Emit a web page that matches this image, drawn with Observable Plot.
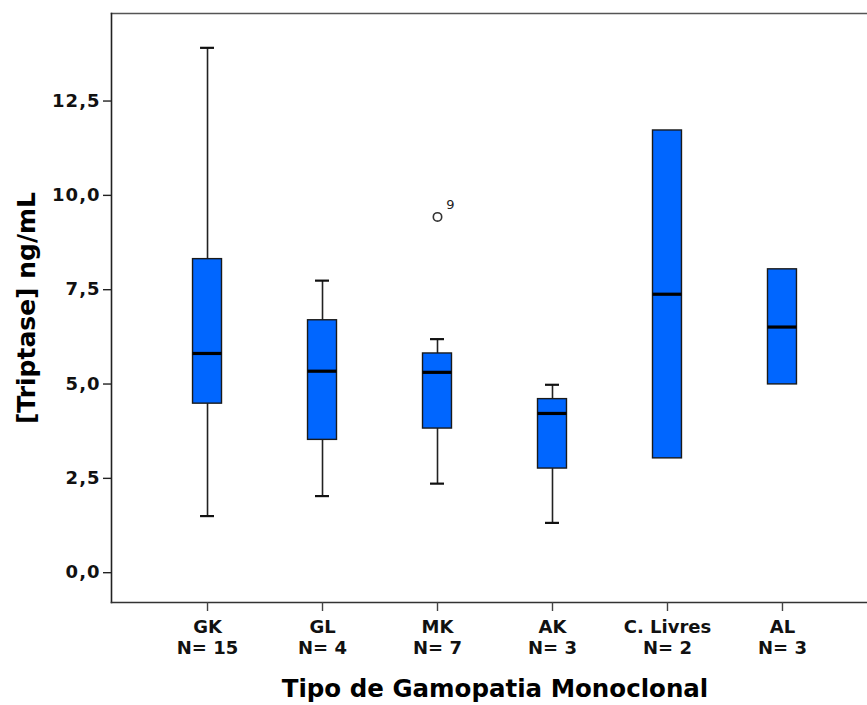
<!DOCTYPE html>
<html>
<head>
<meta charset="utf-8">
<script src="https://cdn.jsdelivr.net/npm/d3@7"></script>
<script src="https://cdn.jsdelivr.net/npm/@observablehq/plot@0.6"></script>
<style>
  html, body { margin: 0; padding: 0; background: #fff; overflow: hidden; }
  #chart { width: 867px; height: 705px; overflow: hidden; }
  #chart svg { max-width: none !important; }
  #chart g[aria-label="y-axis tick label"] text { letter-spacing: 1px; }
</style>
</head>
<body>
<div id="chart"></div>
<script>
// Serum tryptase by type of monoclonal gammopathy (box summaries)
const categories = ["GK", "GL", "MK", "AK", "C. Livres", "AL"];
const counts     = [15, 4, 7, 3, 2, 3];
const whiskerLow = [1.50, 2.03, 2.36, 1.32, 3.03, 4.99];
const q1         = [4.48, 3.52, 3.82, 2.76, 3.03, 4.99];
const median     = [5.81, 5.34, 5.31, 4.22, 7.38, 6.51];
const q3         = [8.31, 6.69, 5.81, 4.60, 11.72, 8.04];
const whiskerHigh= [13.91, 7.74, 6.19, 4.98, 11.72, 8.04];

// Outlying case (case number shown as label)
const outlierCat   = ["MK"];
const outlierValue = [9.43];
const outlierCase  = ["9"];

const yTicks = [0, 2.5, 5, 7.5, 10, 12.5];
const xTitle = "Tipo de Gamopatia Monoclonal";
const yTitle = "[Triptase] ng/mL";

const boxes = categories.map((c, i) => ({
  cat: c, n: counts[i], lo: whiskerLow[i], q1: q1[i], med: median[i], q3: q3[i], hi: whiskerHigh[i]
}));
const whiskered = boxes.filter(d => d.lo < d.q1 || d.hi > d.q3);
const outliers = outlierCat.map((c, i) => ({cat: c, v: outlierValue[i], label: outlierCase[i]}));
const nByCat = new Map(boxes.map(d => [d.cat, d.n]));

const font = "DejaVu Sans, sans-serif";
const blue = "#0066ff";

const chart = Plot.plot({
  width: 880,
  height: 705,
  marginLeft: 111,
  marginRight: 2,
  marginTop: 13,
  marginBottom: 103,
  style: {fontFamily: font, background: "#fff", maxWidth: "none"},
  x: {type: "band", domain: categories, paddingInner: 0.748, paddingOuter: 0.709, align: 0.5, round: false},
  y: {domain: [-0.79, 14.82]},
  marks: [
    // plot border: top, left and bottom edges
    Plot.frame({anchor: "top", stroke: "#555", strokeWidth: 1.5}),
    Plot.frame({anchor: "left", stroke: "#222", strokeWidth: 1.6}),
    Plot.frame({anchor: "bottom", stroke: "#333", strokeWidth: 1.6}),
    // whiskers
    Plot.ruleX(whiskered, {x: "cat", y1: "lo", y2: "q1", stroke: "#222", strokeWidth: 1.6}),
    Plot.ruleX(whiskered, {x: "cat", y1: "q3", y2: "hi", stroke: "#222", strokeWidth: 1.6}),
    Plot.tickY(whiskered, {x: "cat", y: "lo", stroke: "#111", strokeWidth: 2.2, inset: 7.5}),
    Plot.tickY(whiskered, {x: "cat", y: "hi", stroke: "#111", strokeWidth: 2.2, inset: 7.5}),
    // boxes
    Plot.barY(boxes, {x: "cat", y1: "q1", y2: "q3", fill: blue, stroke: "#1a1a1a", strokeWidth: 1.4}),
    Plot.tickY(boxes, {x: "cat", y: "med", stroke: "#000", strokeWidth: 3.2}),
    // outlier
    Plot.dot(outliers, {x: "cat", y: "v", r: 4.2, stroke: "#333", strokeWidth: 1.6, fill: "none"}),
    Plot.text(outliers, {x: "cat", y: "v", text: "label", dx: 13, dy: -12, fontSize: 13, fill: "#222", fontFamily: font}),
    // axes
    Plot.axisY({
      ticks: yTicks, tickSize: 8, tickPadding: 3,
      tickFormat: d => d3.format(".1f")(d).replace(".", ","),
      fontSize: 18, fontWeight: "bold", fill: "#111", stroke: "#222", strokeWidth: 1.4,
      label: null
    }),
    Plot.axisX({
      tickSize: 9, tickPadding: 6,
      tickFormat: c => `${c}\nN= ${nByCat.get(c)}`,
      fontSize: 18, fontWeight: "bold", fill: "#111", stroke: "#444", strokeWidth: 1.4,
      lineHeight: 1.2,
      label: null
    }),
    Plot.text([xTitle], {frameAnchor: "bottom", dy: 94, fontSize: 24.5, fontWeight: "bold", fill: "#000", fontFamily: font}),
    Plot.text([yTitle], {frameAnchor: "left", textAnchor: "middle", dx: -85, rotate: -90, fontSize: 25, fontWeight: "bold", fill: "#000", fontFamily: font})
  ]
});

document.getElementById("chart").appendChild(chart);
</script>
</body>
</html>
